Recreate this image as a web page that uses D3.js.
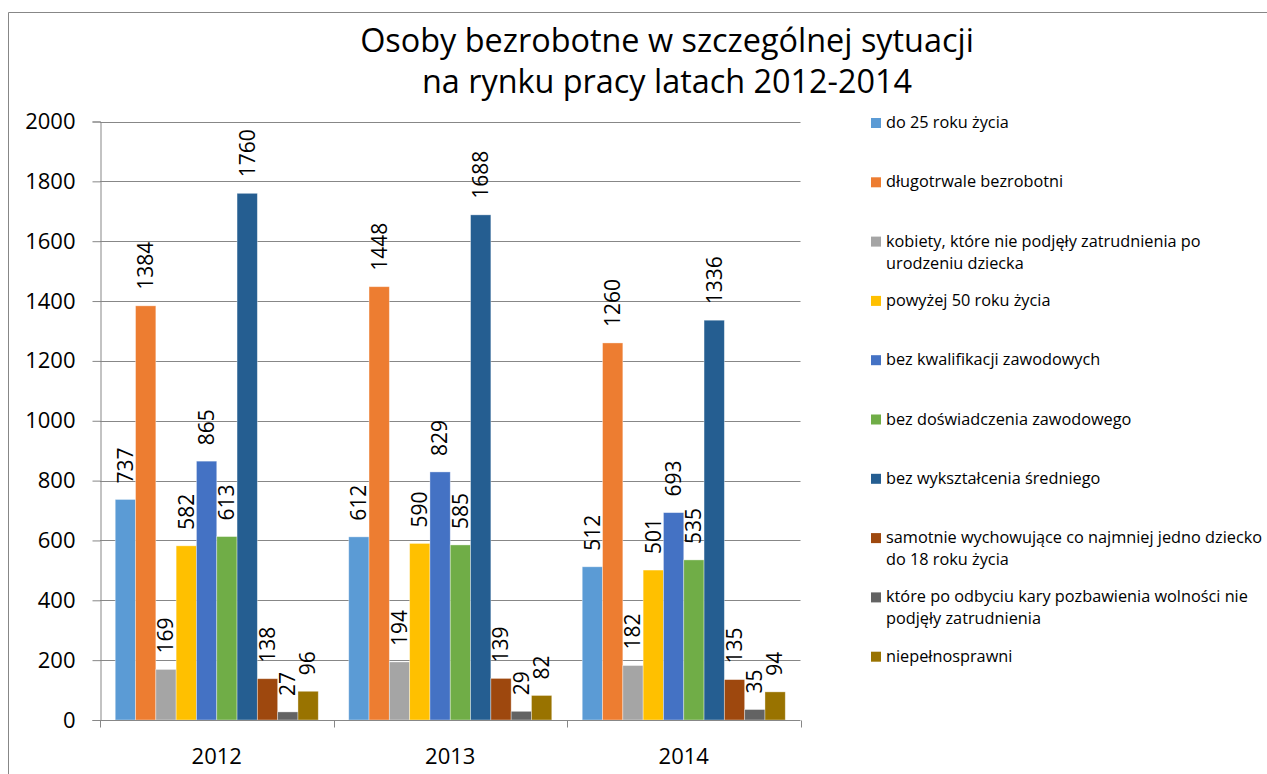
<!DOCTYPE html>
<html><head><meta charset="utf-8">
<script src="https://cdn.jsdelivr.net/npm/d3@7"></script>
<style>
html,body{margin:0;padding:0;background:#fff;overflow:hidden;}
svg{display:block;font-family:"Open Sans",sans-serif;}
</style></head>
<body>
<svg id="c" width="1267" height="774"></svg>
<script>
const years = ["2012","2013","2014"];
const seriesNames = [
  "do 25 roku życia",
  "długotrwale bezrobotni",
  "kobiety, które nie podjęły zatrudnienia po urodzeniu dziecka",
  "powyżej 50 roku życia",
  "bez kwalifikacji zawodowych",
  "bez doświadczenia zawodowego",
  "bez wykształcenia średniego",
  "samotnie wychowujące co najmniej jedno dziecko do 18 roku życia",
  "które po odbyciu kary pozbawienia wolności nie podjęły zatrudnienia",
  "niepełnosprawni"
];
const legendLines = [
  ["do 25 roku życia"],
  ["długotrwale bezrobotni"],
  ["kobiety, które nie podjęły zatrudnienia po","urodzeniu dziecka"],
  ["powyżej 50 roku życia"],
  ["bez kwalifikacji zawodowych"],
  ["bez doświadczenia zawodowego"],
  ["bez wykształcenia średniego"],
  ["samotnie wychowujące co najmniej jedno dziecko","do 18 roku życia"],
  ["które po odbyciu kary pozbawienia wolności nie","podjęły zatrudnienia"],
  ["niepełnosprawni"]
];
const colors = ["#5B9BD5","#ED7D31","#A5A5A5","#FFC000","#4472C4","#70AD47","#255E91","#9E480E","#636363","#997300"];
const values2012 = [737,1384,169,582,865,613,1760,138,27,96];
const values2013 = [612,1448,194,590,829,585,1688,139,29,82];
const values2014 = [512,1260,182,501,693,535,1336,135,35,94];
const yTicks = [0,200,400,600,800,1000,1200,1400,1600,1800,2000];
const titleLines = ["Osoby bezrobotne w szczególnej sytuacji","na rynku pracy latach 2012-2014"];

const valuesByYear = [values2012, values2013, values2014];
const svg = d3.select("#c");
const grid = "#878787";

// outer border
svg.append("path").attr("d","M8.5,780 V12.5 H1280").attr("fill","none").attr("stroke",grid).attr("stroke-width",1);

const plot = {left:100, right:800.5, top:121.5, bottom:720};
const x0 = d3.scaleBand().domain(years).range([plot.left, plot.right]).paddingInner(0).paddingOuter(0);
const x1 = d3.scaleBand().domain(d3.range(seriesNames.length)).range([0, x0.bandwidth()]).paddingInner(0).paddingOuter(0.75);
const y = d3.scaleLinear().domain([0,2000]).range([plot.bottom, plot.top]);

// gridlines
svg.append("g").selectAll("line").data(yTicks.filter(d=>d>0)).join("line")
  .attr("x1",plot.left).attr("x2",plot.right)
  .attr("y1",d=>Math.round(y(d))+0.5).attr("y2",d=>Math.round(y(d))+0.5)
  .attr("stroke",grid).attr("stroke-width",1);

// y axis
const yAxis = svg.append("g").attr("transform",`translate(${plot.left+0.5},0)`)
  .call(d3.axisLeft(y).tickValues(yTicks).tickSize(8).tickPadding(17).tickFormat(d3.format("d")));
yAxis.select(".domain").attr("stroke",grid);
yAxis.selectAll(".tick line").attr("stroke",grid);
yAxis.selectAll(".tick text").attr("font-size",22).attr("fill","#000").attr("font-family","Open Sans");

// bars
const gYear = svg.append("g").selectAll("g").data(years).join("g")
  .attr("transform",d=>`translate(${x0(d)},0)`);
gYear.each(function(yr, yi){
  const g = d3.select(this);
  const vals = valuesByYear[yi];
  g.selectAll("rect").data(vals).join("rect")
    .attr("x",(d,i)=>x1(i)).attr("width",x1.bandwidth())
    .attr("y",d=>y(d)).attr("height",d=>y(0)-y(d))
    .attr("fill",(d,i)=>colors[i])
    .attr("stroke","rgba(255,255,255,0.45)").attr("stroke-width",0.8);
  g.selectAll("text").data(vals).join("text")
    .attr("transform",(d,i)=>`translate(${x1(i)+x1.bandwidth()/2},${y(d)-16}) rotate(-90)`)
    .attr("dy","0.35em")
    .attr("font-size",21).attr("fill","#000")
    .text(d=>d);
});

// x axis
const xAxisG = svg.append("g").attr("transform",`translate(0,${plot.bottom+0.5})`);
xAxisG.append("line").attr("x1",plot.left).attr("x2",plot.right).attr("stroke",grid);
const xTickPos = [plot.left, ...years.map(d=>x0(d)+x0.bandwidth())];
xAxisG.selectAll(".xt").data(xTickPos).join("line").attr("class","xt")
  .attr("x1",d=>Math.round(d)+0.5).attr("x2",d=>Math.round(d)+0.5).attr("y1",0).attr("y2",7).attr("stroke",grid);
xAxisG.selectAll("text").data(years).join("text")
  .attr("x",d=>x0(d)+x0.bandwidth()/2).attr("y",43)
  .attr("text-anchor","middle").attr("font-size",22).attr("fill","#000").text(d=>d);

// title
svg.append("g").selectAll("text").data(titleLines).join("text")
  .attr("x",667).attr("y",(d,i)=>52+i*41)
  .attr("text-anchor","middle").attr("font-size",32.4).attr("fill","#000").text(d=>d);

// legend
const leg = svg.append("g");
legendLines.forEach((lines,i)=>{
  const by = 128 + i*59.3;
  leg.append("rect").attr("x",871).attr("y",by-10).attr("width",10).attr("height",10).attr("fill",colors[i]);
  lines.forEach((t,j)=>{
    leg.append("text").attr("x",886).attr("y",by+j*22).attr("font-size",16.3).attr("fill","#000").text(t);
  });
});
</script>
</body></html>
